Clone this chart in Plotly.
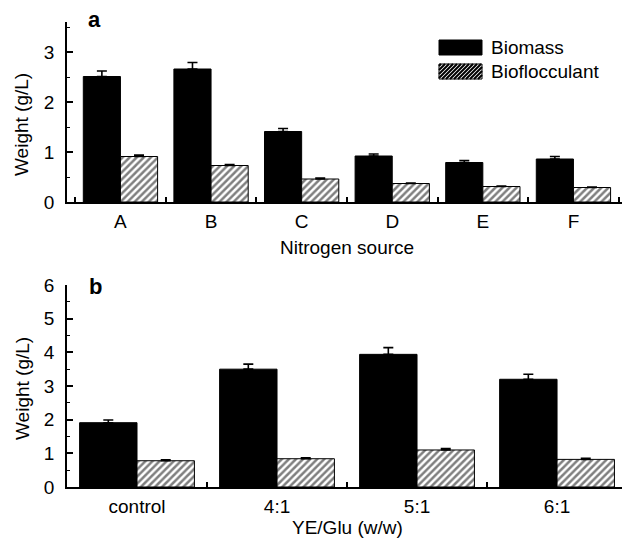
import plotly.graph_objects as go

# ---------------- data ----------------
cats_a = ["A", "B", "C", "D", "E", "F"]
biomass_a = [2.51, 2.66, 1.41, 0.92, 0.79, 0.86]
biomass_a_err = [0.11, 0.13, 0.06, 0.04, 0.04, 0.05]
floc_a = [0.91, 0.73, 0.46, 0.37, 0.31, 0.29]
floc_a_err = [0.03, 0.02, 0.02, 0.01, 0.01, 0.01]

cats_b = ["control", "4:1", "5:1", "6:1"]
biomass_b = [1.91, 3.50, 3.94, 3.20]
biomass_b_err = [0.08, 0.15, 0.20, 0.15]
floc_b = [0.78, 0.84, 1.10, 0.82]
floc_b_err = [0.03, 0.03, 0.04, 0.03]

yticks_a = [0, 1, 2, 3]
yticks_b = [0, 1, 2, 3, 4, 5, 6]

# ---------------- styling ----------------
W, H = 622, 539
FONT = "Liberation Sans, Arial, sans-serif"
FS = 19


def px(x):
    return x / W


def py(y):
    return 1 - y / H


def err(vals):
    return dict(type="data", array=vals, arrayminus=[0] * len(vals), symmetric=False,
                color="black", thickness=1.6, width=5)


hatch = dict(shape="/", fgcolor="black", bgcolor="white", size=5, solidity=0.5)

fig = go.Figure()
fig.add_trace(go.Bar(x=cats_a, y=biomass_a, error_y=err(biomass_a_err), name="Biomass",
                     marker=dict(color="black", line=dict(color="black", width=1)),
                     xaxis="x", yaxis="y", showlegend=False))
fig.add_trace(go.Bar(x=cats_a, y=floc_a, error_y=err(floc_a_err), name="Bioflocculant",
                     marker=dict(color="white", pattern=hatch, line=dict(color="black", width=1)),
                     xaxis="x", yaxis="y", showlegend=False))
fig.add_trace(go.Bar(x=cats_b, y=biomass_b, error_y=err(biomass_b_err), name="Biomass",
                     marker=dict(color="black", line=dict(color="black", width=1)),
                     xaxis="x2", yaxis="y2", showlegend=False))
fig.add_trace(go.Bar(x=cats_b, y=floc_b, error_y=err(floc_b_err), name="Bioflocculant",
                     marker=dict(color="white", pattern=hatch, line=dict(color="black", width=1)),
                     xaxis="x2", yaxis="y2", showlegend=False))

xdom = [px(67), 1.0]
common_x = dict(type="category", showline=True, linecolor="black", linewidth=1.6,
                ticks="inside", ticklen=5, tickwidth=1.5, tickcolor="black",
                tickson="boundaries", showgrid=False, zeroline=False, automargin=False,
                tickfont=dict(size=FS, color="black"), ticklabelstandoff=1)
common_y = dict(showline=True, linecolor="black", linewidth=1.6, ticks="inside",
                ticklen=6, tickwidth=1.5, tickcolor="black", showgrid=False,
                zeroline=False, automargin=False, tickfont=dict(size=FS, color="black"),
                ticklabelstandoff=7,
                minor=dict(dtick=0.5, ticks="inside", ticklen=3, tickwidth=1.2,
                           tickcolor="black", showgrid=False))

fig.update_layout(
    width=W, height=H,
    margin=dict(l=0, r=0, t=0, b=0, autoexpand=False),
    paper_bgcolor="white", plot_bgcolor="white",
    font=dict(family=FONT, size=FS, color="black"),
    barmode="group", bargap=0.18, bargroupgap=0,
    xaxis=dict(domain=xdom, anchor="y", range=[-0.59, 5.536], **common_x),
    yaxis=dict(domain=[py(202), py(22)], anchor="x", range=[0, 3.6],
               tickvals=yticks_a, **common_y),
    xaxis2=dict(domain=xdom, anchor="y2", range=[-0.5, 3.464], **common_x),
    yaxis2=dict(domain=[py(487), py(285)], anchor="x2", range=[0, 6],
                tickvals=yticks_b, **common_y),
)

# ---------------- text ----------------
ann = [
    dict(text="<b>a</b>", x=px(94.5), y=py(20), size=22),
    dict(text="<b>b</b>", x=px(95), y=py(286), size=22),
    dict(text="Nitrogen source", x=px(347), y=py(247), size=FS),
    dict(text="YE/Glu (w/w)", x=px(347), y=py(527), size=FS),
]
for a in ann:
    fig.add_annotation(text=a["text"], x=a["x"], y=a["y"], xref="paper", yref="paper",
                       showarrow=False, xanchor="center", yanchor="middle",
                       font=dict(size=a["size"], color="black", family=FONT))
for yc in (125, 389):
    fig.add_annotation(text="Weight (g/L)", x=px(22), y=py(yc), xref="paper", yref="paper",
                       showarrow=False, textangle=-90, xanchor="center", yanchor="middle",
                       font=dict(size=FS, color="black", family=FONT))

# ---------------- legend (drawn) ----------------
lx0, lx1 = 439, 482
b_y0, b_y1 = 40, 55
h_y0, h_y1 = 64, 79
fig.add_shape(type="rect", xref="paper", yref="paper",
              x0=px(lx0), x1=px(lx1), y0=py(b_y1), y1=py(b_y0),
              fillcolor="black", line=dict(color="black", width=1))
fig.add_shape(type="rect", xref="paper", yref="paper",
              x0=px(lx0), x1=px(lx1), y0=py(h_y1), y1=py(h_y0),
              fillcolor="white", line=dict(color="black", width=1))
segs = []
c = lx0 + h_y0 + 2
while c < lx1 + h_y1:
    xs = max(lx0, c - h_y1)
    xe = min(lx1, c - h_y0)
    if xs < xe:
        segs.append(f"M{px(xs)},{py(c - xs)} L{px(xe)},{py(c - xe)}")
    c += 4
fig.add_shape(type="path", xref="paper", yref="paper", path=" ".join(segs),
              line=dict(color="black", width=2))
for label, yc in (("Biomass", 47.5), ("Bioflocculant", 71.5)):
    fig.add_annotation(text=label, x=px(489), y=py(yc), xref="paper", yref="paper",
                       showarrow=False, xanchor="left", yanchor="middle",
                       font=dict(size=FS, color="black", family=FONT))

# remove the default 8px page margin so the figure fills the window exactly
fig.write_html(
    "out.html",
    config={"displayModeBar": False},
    post_script="document.body.style.margin='0';"
                "document.documentElement.style.overflow='hidden';"
                "document.body.style.overflow='hidden';",
)
